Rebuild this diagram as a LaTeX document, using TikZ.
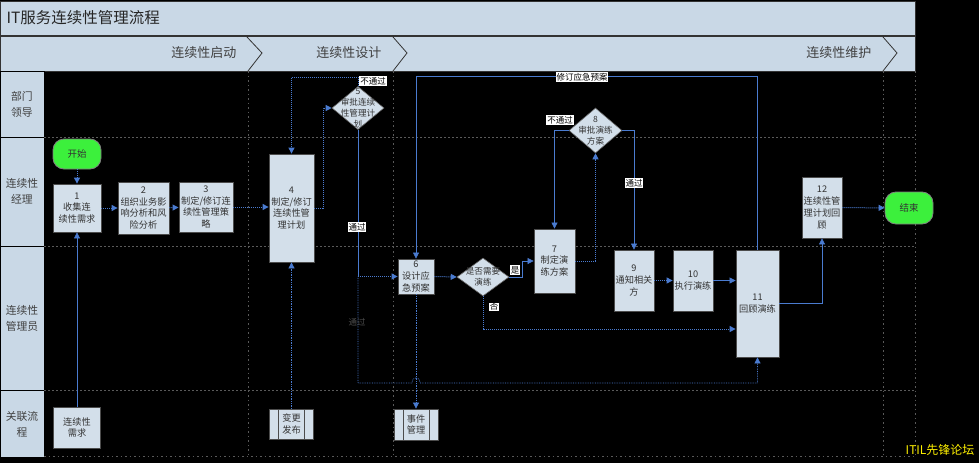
\documentclass[tikz,border=0pt]{standalone}
\usepackage{fontspec}
\setmainfont{Noto Sans CJK SC}
\usetikzlibrary{arrows.meta,shapes.geometric}
\definecolor{boxfill}{HTML}{D3DFEA}
\definecolor{barfill}{HTML}{C9D8E6}
\definecolor{connc}{HTML}{4A7BD0}
\definecolor{termfill}{HTML}{3CF03C}
\definecolor{sepc}{HTML}{5A5A5A}
\definecolor{boxtext}{HTML}{333333}
\begin{document}
\begin{tikzpicture}[x=1pt,y=-1pt,
  proc/.style={draw=black!70, line width=0.8pt, fill=boxfill, text=boxtext, align=center,
    font=\fontsize{9.2}{11.8}\selectfont, inner sep=0.5pt},
  decision/.style={diamond, draw=black!60, line width=0.6pt, fill=boxfill, inner sep=0pt},
  dtext/.style={text=boxtext, align=center, font=\fontsize{8.6}{11}\selectfont},
  term/.style={draw=black!50, line width=0.8pt, fill=termfill, rounded corners=11pt,
    text=boxtext, font=\fontsize{9.5}{11}\selectfont},
  predef/.style={proc, path picture={
    \draw[black!70, line width=0.8pt] ([xshift=9pt]path picture bounding box.north west) -- ([xshift=9pt]path picture bounding box.south west);
    \draw[black!70, line width=0.8pt] ([xshift=-9pt]path picture bounding box.north east) -- ([xshift=-9pt]path picture bounding box.south east);}},
  flow/.style={draw=connc, line width=1pt, densely dotted, -{Triangle[length=6pt,width=6pt]}},
  flowthin/.style={draw=connc, line width=0.7pt, densely dotted, -{Triangle[length=6pt,width=6pt]}},
  flowsolid/.style={draw=connc, line width=0.6pt, -{Triangle[length=6pt,width=6pt]}},
  tag/.style={fill=white, text=black, inner sep=0.8pt, font=\fontsize{8.5}{9}\selectfont},
  lanelabel/.style={text=black!75, align=center, font=\fontsize{10.8}{16}\selectfont},
  lanesep/.style={draw=sepc, line width=0.6pt, dash pattern=on 2pt off 2pt},
  phasesep/.style={draw=sepc, line width=0.8pt, dash pattern=on 1.5pt off 3pt},
  chev/.style={draw=black!80, line width=0.8pt}
]
\useasboundingbox (0,0) rectangle (979,463);
\fill[black] (0,0) rectangle (979,463);

% title and phase bars
\draw[fill=barfill, draw=black!80, line width=1pt] (0,1) rectangle (915,35);
\node[anchor=west, text=black!85, font=\fontsize{15.5}{18}\selectfont] (title) at (3,18) {IT服务连续性管理流程};
\draw[fill=barfill, draw=black!80, line width=1pt] (0,36) rectangle (915,71);
\draw[chev] (247,37) -- (262,53) -- (248,71);
\draw[chev] (393,37) -- (407,53) -- (393,71);
\draw[chev] (883,37) -- (897,53) -- (883,71);
\node[anchor=east, text=black!75, font=\fontsize{13}{15}\selectfont] (ph1) at (240,53) {连续性启动};
\node[anchor=east, text=black!75, font=\fontsize{13}{15}\selectfont] (ph2) at (385,53) {连续性设计};
\node[anchor=east, text=black!75, font=\fontsize{13}{15}\selectfont] (ph3) at (875,53) {连续性维护};

% lane label cells
\draw[fill=barfill, draw=black, line width=1pt] (0,71) rectangle (44,137);
\draw[fill=barfill, draw=black, line width=1pt] (0,137) rectangle (44,246);
\draw[fill=barfill, draw=black, line width=1pt] (0,246) rectangle (44,390);
\draw[fill=barfill, draw=black, line width=1pt] (0,390) rectangle (44,457);
\node[lanelabel] (l1) at (22,104) {部门\\领导};
\node[lanelabel] (l2) at (22,191) {连续性\\经理};
\node[lanelabel] (l3) at (22,318) {连续性\\管理员};
\node[lanelabel] (l4) at (22,424) {关联流\\程};

% lane and phase separators
\draw[lanesep] (44,137) -- (915,137);
\draw[lanesep] (44,246) -- (915,246);
\draw[lanesep] (44,390) -- (915,390);
\draw[phasesep] (44,456) -- (915,456);
\draw[phasesep] (248,71) -- (248,456);
\draw[phasesep] (393,71) -- (393,456);
\draw[phasesep] (883,71) -- (883,456);
\draw[phasesep] (915,71) -- (915,456);

% nodes
\node[term, minimum width=48pt, minimum height=30pt] (start) at (77,154) {开始};
\node[proc, minimum width=48pt, minimum height=48pt] (b1) at (77,208) {1\\收集连\\续性需求};
\node[proc, minimum width=51pt, minimum height=52pt] (b2) at (143.5,208) {2\\组织业务影\\响分析和风\\险分析};
\node[proc, minimum width=54pt, minimum height=50pt] (b3) at (206,207) {3\\制定/修订连\\续性管理策\\略};
\node[proc, minimum width=45pt, minimum height=108pt] (b4) at (291.5,208) {4\\制定/修订\\连续性管\\理计划};
\node[decision, minimum width=52pt, minimum height=43pt,
  label={[dtext]center:5\\审批连续\\性管理计\\划}] (d5) at (358,108) {};
\node[proc, minimum width=36pt, minimum height=35pt] (b6) at (416,276.5) {6\\设计应\\急预案};
\node[decision, minimum width=52pt, minimum height=38pt,
  label={[dtext]center:是否需要\\演练}] (d6) at (483,277) {};
\node[proc, minimum width=41pt, minimum height=64pt] (b7) at (554.5,261) {7\\制定演\\练方案};
\node[decision, minimum width=53pt, minimum height=45pt,
  label={[dtext]center:8\\审批演练\\方案}] (d8) at (595.5,130.5) {};
\node[proc, minimum width=40pt, minimum height=61pt] (b9) at (634,280.5) {9\\通知相关\\方};
\node[proc, minimum width=40pt, minimum height=61pt] (b10) at (693,280.5) {10\\执行演练};
\node[proc, minimum width=43pt, minimum height=107pt] (b11) at (757.5,303.5) {11\\回顾演练};
\node[proc, minimum width=40pt, minimum height=61pt] (b12) at (822,207.5) {12\\连续性管\\理计划回\\顾};
\node[term, minimum width=48pt, minimum height=32pt] (end) at (909,208) {结束};

\node[proc, minimum width=47pt, minimum height=41pt] (r1) at (77,427.5) {连续性\\需求};
\node[predef, minimum width=44pt, minimum height=30pt] (r2) at (291.5,424) {变更\\发布};
\node[predef, minimum width=44pt, minimum height=31pt] (r3) at (416,424.5) {事件\\管理};

% connectors
\draw[flow] (start) -- (b1);
\draw[flowsolid] (r1) -- (b1);
\draw[flow] (b1) -- (b2);
\draw[flow] (b2) -- (b3);
\draw[flow] (b3.east) -- (b3.east -| b4.west);
\draw[flow] (b4.east) -- ++(9,0) |- (d5.west);
\draw[flow] (d5.north) -- ++(0,-9) -| (b4.north);
\node[tag] (t1) at (373,81) {不通过};
\draw[flowthin] (r2) -- (b4);

\coordinate (p5) at (358,276.5);
\coordinate (p5b) at (358,383);
\draw[draw=connc, line width=0.6pt] (d5.south) -- (p5);
\draw[flow] (p5) -- (b6.west);
\node[tag] (t2) at (357,227) {通过};
\draw[flowthin] (p5) -- (p5b) -- (412,383) .. controls (412,376) and (420,376) .. (420,383) -- (757.5,383) -- (b11.south);
\node[text=black!70, font=\fontsize{8.5}{9}\selectfont] (t3) at (357,322) {通过};

\draw[flowsolid] (b11.north) -- ++(0,-173) -| (b6.north);
\node[tag] (t4) at (582,77) {修订应急预案};

\draw[flow] (b6.east) -- (d6.west);
\draw[flowsolid] (d6.east) -- ++(13,0) |- (b7.west);
\node[tag] (t5) at (515,270) {是};
\coordinate (nf) at (483,329);
\draw[flow] (d6.south) -- (nf) -- (nf -| b11.west);
\node[tag] (t6) at (494,307) {否};

\draw[flow] (b7.east) -| (d8.south);
\draw[flowsolid] (d8.west) -| (b7.north);
\node[tag] (t7) at (560,120) {不通过};
\draw[flowsolid] (d8.east) -| (b9.north);
\node[tag] (t8) at (634,183) {通过};
\draw[flow] (b9) -- (b10);
\draw[flowsolid] (b10.east) -- (b10.east -| b11.west);
\draw[flowsolid] (b11.east) -| (b12.south);
\draw[flow] (b12) -- (end);
\draw[flowthin] (b6.south) -- (r3.north);

% watermark
\node[anchor=east, text=yellow, font=\fontsize{12}{14}\selectfont] (wm) at (978,450) {ITIL先锋论坛};
\end{tikzpicture}
\end{document}
